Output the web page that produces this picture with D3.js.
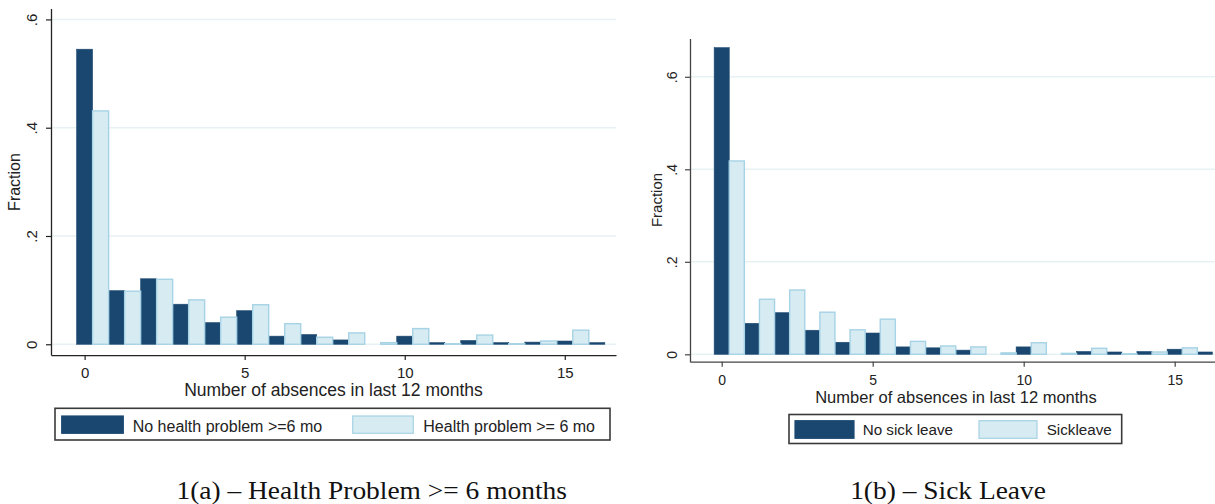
<!DOCTYPE html>
<html>
<head>
<meta charset="utf-8">
<script src="https://cdn.jsdelivr.net/npm/d3@7"></script>
<style>
  html, body { margin: 0; padding: 0; background: #fff; }
  svg { display: block; }
  text { font-family: "Liberation Sans", Arial, Helvetica, sans-serif; fill: #222; }
  .caption { font-family: "Liberation Serif", "Times New Roman", serif; fill: #111; }
</style>
</head>
<body>
<svg id="chart" width="1215" height="504"></svg>
<script>
// absences 0..16
const absences = d3.range(0, 17);

// 1(a) Health problem >= 6 months
const noHealthProblem = [0.545, 0.099, 0.121, 0.074, 0.040, 0.062, 0.015, 0.018, 0.008, 0,
  0.015, 0.003, 0.007, 0.003, 0.004, 0.006, 0.003];
const healthProblem = [0.431, 0.098, 0.120, 0.082, 0.050, 0.073, 0.038, 0.013, 0.021, 0.003,
  0.029, 0.001, 0.017, 0.001, 0.006, 0.026, 0];

// 1(b) Sick leave
const noSickLeave = [0.663, 0.067, 0.090, 0.052, 0.026, 0.046, 0.016, 0.014, 0.009, 0,
  0.016, 0, 0.006, 0.005, 0.006, 0.011, 0.005];
const sickLeave = [0.418, 0.119, 0.139, 0.091, 0.053, 0.076, 0.028, 0.018, 0.016, 0.003,
  0.025, 0.002, 0.013, 0.001, 0.005, 0.014, 0];

const xTicks = [0, 5, 10, 15];
const yTicks = [0, 0.2, 0.4, 0.6];
const xTitle = "Number of absences in last 12 months";
const yTitle = "Fraction";

const DARK = "#1a476f";
const LIGHT = "#d6ebf2";
const LIGHT_EDGE = "#a6d3e5";
const GRID = "#e8f1f3";

const svg = d3.select("#chart");

function drawPanel(cfg) {
  const x = d3.scaleLinear().domain([-1.05, 16.6]).range(cfg.xRange);
  const y = d3.scaleLinear().domain(cfg.yDomain).range(cfg.yRange);
  const g = svg.append("g");

  // gridlines
  g.selectAll(".grid")
    .data(yTicks)
    .enter().append("line")
    .attr("x1", cfg.xRange[0] + 1).attr("x2", cfg.xRange[1])
    .attr("y1", d => y(d)).attr("y2", d => y(d))
    .style("stroke", GRID).style("stroke-width", 1.5);

  const barW = 0.5;
  // first group: bars centred on each value
  g.selectAll(".dark")
    .data(absences.map((k, i) => ({ k, v: cfg.s1[i] })).filter(d => d.v > 0))
    .enter().append("rect")
    .attr("x", d => x(d.k - barW / 2))
    .attr("width", d => x(d.k + barW / 2) - x(d.k - barW / 2))
    .attr("y", d => y(d.v))
    .attr("height", d => y(0) - y(d.v))
    .style("fill", DARK)
    .style("stroke", "#1d4a72").style("stroke-width", 0.6);

  // second group: shifted half a unit to the right
  g.selectAll(".light")
    .data(absences.map((k, i) => ({ k, v: cfg.s2[i] })).filter(d => d.v > 0))
    .enter().append("rect")
    .attr("x", d => x(d.k + barW / 2))
    .attr("width", d => x(d.k + 1.5 * barW) - x(d.k + barW / 2))
    .attr("y", d => y(d.v))
    .attr("height", d => y(0) - y(d.v))
    .style("fill", LIGHT)
    .style("stroke", LIGHT_EDGE).style("stroke-width", 1.4);

  // x axis
  const xAxis = g.append("g")
    .attr("transform", `translate(0,${cfg.yRange[0]})`)
    .call(d3.axisBottom(x).tickValues(xTicks).tickSize(5).tickSizeOuter(0)
      .tickPadding(cfg.xPad).tickFormat(d3.format("d")));
  xAxis.select(".domain").style("stroke", cfg.axisColor).style("stroke-width", 1.3);
  xAxis.selectAll(".tick line").style("stroke", cfg.axisColor).style("stroke-width", 1.2);
  xAxis.selectAll(".tick text").style("font-size", cfg.tickFont + "px").style("fill", "#222");

  // y axis with vertical labels
  const fmt = d => d === 0 ? "0" : d3.format(".1f")(d).replace(/^0/, "");
  const yAxis = g.append("g")
    .attr("transform", `translate(${cfg.xRange[0]},0)`)
    .call(d3.axisLeft(y).tickValues(yTicks).tickSize(5).tickSizeOuter(0).tickFormat(fmt));
  yAxis.select(".domain").style("stroke", cfg.axisColor).style("stroke-width", 1.3);
  yAxis.selectAll(".tick line").style("stroke", cfg.axisColor).style("stroke-width", 1.2);
  yAxis.selectAll(".tick text")
    .attr("x", null).attr("dy", null)
    .attr("text-anchor", "middle")
    .attr("transform", `translate(${-cfg.yPad},0) rotate(-90)`)
    .style("font-size", cfg.tickFont + "px").style("fill", "#222");
  svg.selectAll(".tick text").attr("font-family", null);

  // axis titles
  g.append("text")
    .attr("x", cfg.xTitlePos[0]).attr("y", cfg.xTitlePos[1])
    .attr("text-anchor", "middle")
    .style("font-size", cfg.titleFont + "px")
    .text(xTitle);
  g.append("text")
    .attr("transform", `translate(${cfg.yTitlePos[0]},${cfg.yTitlePos[1]}) rotate(-90)`)
    .attr("text-anchor", "middle")
    .style("font-size", cfg.yTitleFont + "px")
    .text(yTitle);

  // legend
  const L = cfg.legend;
  g.append("rect")
    .attr("x", L.x).attr("y", L.y).attr("width", L.w).attr("height", L.h)
    .style("fill", "#fff").style("stroke", "#3a3a3a").style("stroke-width", 1.6);
  L.items.forEach((it, i) => {
    g.append("rect")
      .attr("x", it.sx).attr("y", L.sy).attr("width", it.sw).attr("height", L.sh)
      .style("fill", i === 0 ? DARK : LIGHT)
      .style("stroke", i === 0 ? "#1d4a72" : LIGHT_EDGE).style("stroke-width", 1.2);
    g.append("text")
      .attr("x", it.tx).attr("y", L.ty)
      .style("font-size", L.font + "px")
      .text(it.label);
  });

  // caption
  svg.append("text")
    .attr("class", "caption")
    .attr("transform", `translate(${cfg.caption.x},498.5) scale(1.12,1)`)
    .attr("text-anchor", "middle")
    .style("font-size", "24.5px")
    .text(cfg.caption.text);
}

drawPanel({
  s1: noHealthProblem, s2: healthProblem,
  xRange: [51, 616],
  yDomain: [-0.02, 0.62], yRange: [355.1, 8.6],
  xPad: 7.5, yPad: 14, tickFont: 15, axisColor: "#222",
  xTitlePos: [333.5, 396], titleFont: 17.5,
  yTitlePos: [20, 182], yTitleFont: 16,
  legend: {
    x: 55, y: 408.3, w: 555, h: 31.7, sy: 416, sh: 17.3, ty: 431.5, font: 16,
    items: [
      { sx: 61.7, sw: 61.6, tx: 132.7, label: "No health problem >=6 mo" },
      { sx: 352.7, sw: 60.6, tx: 423.3, label: "Health problem >= 6 mo" }
    ]
  },
  caption: { x: 371.7, text: "1(a) \u2013 Health Problem >= 6 months" }
});

drawPanel({
  s1: noSickLeave, s2: sickLeave,
  xRange: [690, 1223],
  yDomain: [-0.016, 0.683], yRange: [361.7, 38.4],
  xPad: 8.3, yPad: 13.3, tickFont: 14, axisColor: "#444",
  xTitlePos: [956, 403.3], titleFont: 16.5,
  yTitlePos: [662.3, 200], yTitleFont: 15,
  legend: {
    x: 789, y: 414.5, w: 332.7, h: 29, sy: 420.7, sh: 17.6, ty: 435, font: 15.2,
    items: [
      { sx: 795, sw: 59, tx: 862.7, label: "No sick leave" },
      { sx: 979, sw: 58, tx: 1046.7, label: "Sickleave" }
    ]
  },
  caption: { x: 948, text: "1(b) \u2013 Sick Leave" }
});
</script>
</body>
</html>
